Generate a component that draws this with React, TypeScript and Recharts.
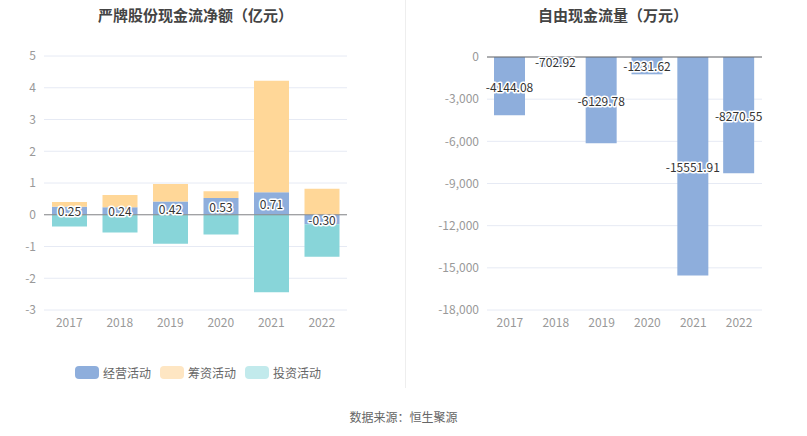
import React from "react";
import {
  Bar,
  BarChart,
  CartesianGrid,
  LabelList,
  ReferenceLine,
  XAxis,
  YAxis,
} from "recharts";

const years = ["2017", "2018", "2019", "2020", "2021", "2022"];
const operating = [0.25, 0.24, 0.42, 0.53, 0.71, -0.3];
const financing = [0.15, 0.38, 0.55, 0.21, 3.51, 0.82];
const investing = [-0.37, -0.56, -0.91, -0.62, -2.44, -1.02];
const freeCashFlow = [-4144.08, -702.92, -6129.78, -1231.62, -15551.91, -8270.55];
const leftTicks = [-3, -2, -1, 0, 1, 2, 3, 4, 5];
const rightTicks = [-18000, -15000, -12000, -9000, -6000, -3000, 0];

const BLUE = "#8eaedc";
const ORANGE = "#ffd798";
const CYAN = "#88d5d9";
const FONT = "'Noto Sans CJK SC', 'Noto Sans', sans-serif";

const netData = years.map((year, i) => ({
  year,
  operating: operating[i],
  financing: financing[i],
  investing: investing[i],
}));

const fcfData = years.map((year, i) => ({ year, value: freeCashFlow[i] }));

// 白色描边的数值标签
function haloLabel(digits: number) {
  return (props: any) => {
    const { x, y, width, height, value } = props;
    return (
      <text
        x={x + width / 2}
        y={y + height / 2}
        textAnchor="middle"
        dominantBaseline="central"
        fontSize={12}
        fontFamily={FONT}
        fill="#333"
        stroke="#fff"
        strokeWidth={3}
        paintOrder="stroke"
        strokeLinejoin="round"
      >
        {Number(value).toFixed(digits)}
      </text>
    );
  };
}

const tickStyle = { fontSize: 12, fill: "#999", fontFamily: FONT };

const legendItems = [
  { name: "经营活动", color: BLUE },
  { name: "筹资活动", color: "#fee6c3" },
  { name: "投资活动", color: "#c2eaec" },
];

export default function App() {
  return (
    <div
      style={{
        position: "absolute",
        left: 0,
        top: 0,
        width: 807,
        height: 436,
        background: "#fff",
        fontFamily: FONT,
      }}
    >
      <div
        style={{
          position: "absolute",
          left: 44,
          width: 303,
          top: 4,
          textAlign: "center",
          fontSize: 15,
          fontWeight: "bold",
          color: "#444",
        }}
      >
        严牌股份现金流净额（亿元）
      </div>
      <div
        style={{
          position: "absolute",
          left: 487,
          width: 252,
          top: 4,
          textAlign: "center",
          fontSize: 15,
          fontWeight: "bold",
          color: "#444",
        }}
      >
        自由现金流量（万元）
      </div>
      <div
        style={{
          position: "absolute",
          left: 405,
          top: 0,
          width: 1,
          height: 388,
          background: "#eee",
        }}
      />

      <div style={{ position: "absolute", left: 0, top: 0 }}>
        <BarChart
          width={360}
          height={340}
          data={netData}
          stackOffset="sign"
          margin={{ top: 56, right: 13, bottom: 0, left: 0 }}
        >
          <CartesianGrid vertical={false} stroke="#e6eaf4" />
          <XAxis
            dataKey="year"
            axisLine={false}
            tickLine={false}
            tick={tickStyle}
            height={30}
          />
          <YAxis
            width={44}
            domain={[-3, 5]}
            ticks={leftTicks}
            axisLine={false}
            tickLine={false}
            tick={tickStyle}
          />
          <ReferenceLine y={0} stroke="#888" />
          <Bar dataKey="operating" stackId="a" fill={BLUE} barSize={35} isAnimationActive={false}>
            <LabelList dataKey="operating" content={haloLabel(2)} />
          </Bar>
          <Bar dataKey="financing" stackId="a" fill={ORANGE} barSize={35} isAnimationActive={false} />
          <Bar dataKey="investing" stackId="a" fill={CYAN} barSize={35} isAnimationActive={false} />
        </BarChart>
      </div>

      <div style={{ position: "absolute", left: 410, top: 0 }}>
        <BarChart
          width={370}
          height={340}
          data={fcfData}
          margin={{ top: 57, right: 18, bottom: 0, left: 0 }}
        >
          <CartesianGrid vertical={false} stroke="#e6eaf4" />
          <XAxis
            dataKey="year"
            axisLine={false}
            tickLine={false}
            tick={tickStyle}
            height={30}
          />
          <YAxis
            width={77}
            domain={[-18000, 0]}
            ticks={rightTicks}
            axisLine={false}
            tickLine={false}
            tick={tickStyle}
            tickFormatter={(v: number) => v.toLocaleString("en-US")}
          />
          <ReferenceLine y={0} stroke="#666" />
          <Bar dataKey="value" fill={BLUE} barSize={31} isAnimationActive={false}>
            <LabelList dataKey="value" content={haloLabel(2)} />
          </Bar>
        </BarChart>
      </div>

      <div
        style={{
          position: "absolute",
          left: 75,
          top: 364,
          display: "flex",
          alignItems: "center",
          fontSize: 12,
          color: "#666",
        }}
      >
        {legendItems.map((item) => (
          <div
            key={item.name}
            style={{ display: "flex", alignItems: "center", marginRight: 9 }}
          >
            <span
              style={{
                display: "inline-block",
                width: 24,
                height: 13,
                borderRadius: 4,
                background: item.color,
                marginRight: 4,
              }}
            />
            {item.name}
          </div>
        ))}
      </div>

      <div
        style={{
          position: "absolute",
          left: 0,
          width: 807,
          top: 408,
          textAlign: "center",
          fontSize: 12,
          color: "#666",
        }}
      >
        数据来源：恒生聚源
      </div>
    </div>
  );
}
